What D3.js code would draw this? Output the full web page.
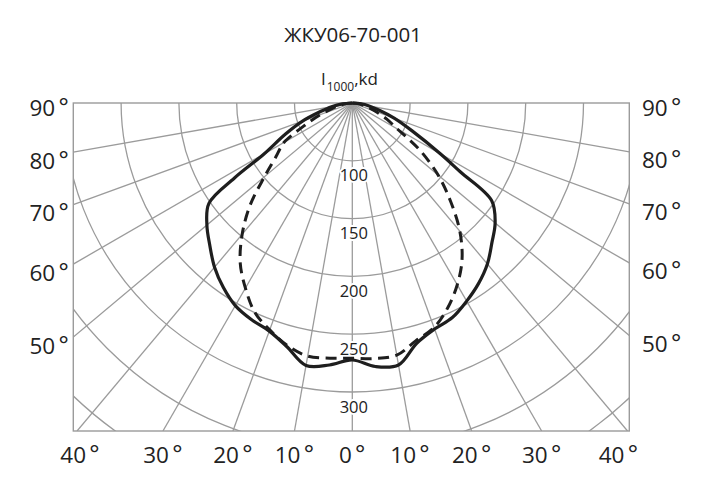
<!DOCTYPE html>
<html><head><meta charset="utf-8">
<script src="https://cdn.jsdelivr.net/npm/d3@7"></script>
<style>body{margin:0;background:#fff} svg{display:block}</style>
</head><body>
<svg id="c" width="711" height="479"></svg>
<script>
// ---- data ----
const title = "ЖКУ06-70-001";
const axisLabel = { main: "I", sub: "1000", unit: ",kd" };
// angle from nadir (deg), negative = left half
const angles = [-90,-85,-80,-75,-70,-65,-60,-57.5,-55,-50,-45,-40,-35,-30,-25,-20,-15,-10,-5,0,5,10,15,20,25,30,35,40,45,50,55,57.5,60,65,70,75,80,85,90];
const solidValues = [50,58.7,68.2,78.5,95.8,114,138.2,171.1,201.4,214.2,224.3,235.4,244.6,252.4,256.7,260,268.3,280.5,277.5,272.3,278.8,280.1,265.2,258.1,254.8,247.9,240.5,231.8,220.8,211.3,197.1,160.7,138.2,107.1,88.9,74.2,64.7,57.8,50];
const dashedValues = [50,55.2,60.4,67.3,79.4,95,118.3,124.4,130.4,149.1,175,198.2,219,234.9,249.7,258.9,267.1,272.3,271.6,270.8,271.9,271.5,262.8,256.7,245.4,231.6,215.5,194.7,170.2,146.9,121.8,107.1,95,82.9,71.6,63.8,58.7,54.3,50];
const ringValues = [100,150,200,250,300,350,400];
const ringTickLabels = [100,150,200,250,300];
const radialAngles = [-80,-70,-60,-50,-40,-30,-20,-10,0,10,20,30,40,50,60,70,80];
const sideTickLabels = [90,80,70,60,50];
const bottomTickLabels = [-40,-30,-20,-10,0,10,20,30,40];

// ---- layout ----
const svg = d3.select("#c");
const cx = 352.3, cy = 103;
const box = { x0: 73.3, x1: 629.3, y0: 103, y1: 431 };
const r = d3.scaleLinear().domain([50, 300]).range([0, 289]);
const grid = "#9b9b9b", ink = "#1e1e1e";
const font = "'Open Sans', 'Noto Sans', sans-serif";

const defs = svg.append("defs");
defs.append("clipPath").attr("id", "bx").append("rect")
  .attr("x", box.x0).attr("y", box.y0).attr("width", box.x1 - box.x0).attr("height", box.y1 - box.y0);

const rad = a => a * Math.PI / 180;
// intersection of ray from pole with box border
function edgeHit(a) {
  const t = rad(a);
  const dyB = box.y1 - cy;
  const dx = dyB * Math.tan(t);
  if (cx + dx >= box.x0 - 0.01 && cx + dx <= box.x1 + 0.01) return { x: cx + dx, y: box.y1, side: "bottom" };
  const ex = a < 0 ? box.x0 - cx : box.x1 - cx;
  return { x: cx + ex, y: cy + ex / Math.tan(t), side: a < 0 ? "left" : "right" };
}

const g = svg.append("g").attr("clip-path", "url(#bx)");
g.selectAll("circle.ring").data(ringValues).join("circle")
  .attr("cx", cx).attr("cy", cy).attr("r", d => r(d))
  .attr("fill", "none").attr("stroke", grid).attr("stroke-width", 1.3);
g.selectAll("line.rad").data(radialAngles).join("line")
  .attr("x1", cx).attr("y1", cy)
  .attr("x2", d => edgeHit(d).x).attr("y2", d => edgeHit(d).y)
  .attr("stroke", grid).attr("stroke-width", 1.3);

svg.append("rect").attr("x", box.x0).attr("y", box.y0)
  .attr("width", box.x1 - box.x0).attr("height", box.y1 - box.y0)
  .attr("fill", "none").attr("stroke", grid).attr("stroke-width", 1.4);

// ring labels
svg.selectAll("text.rl").data(ringTickLabels).join("text")
  .attr("x", cx + 1.5).attr("y", d => cy + r(d) + 14)
  .attr("text-anchor", "middle").attr("dominant-baseline", "central")
  .attr("font-family", font).attr("font-size", 16.5).attr("fill", "#222")
  .attr("stroke", "#fff").attr("stroke-width", 4).attr("paint-order", "stroke")
  .text(d => d);

function degLabel(sel, fn) {
  sel.append("tspan").text(fn);
  sel.append("tspan").attr("dx", 3).attr("font-size", 27).attr("dy", 1)
    .attr("font-family", "'Liberation Sans', sans-serif").text("°");
}

// side labels
[-1, 1].forEach(s => {
  svg.selectAll("text.side" + s).data(sideTickLabels).join("text")
    .attr("x", s < 0 ? 69 : 642)
    .attr("y", d => d === 90 ? cy + 4 : edgeHit(s * d).y + 7.5)
    .attr("text-anchor", s < 0 ? "end" : "start").attr("dominant-baseline", "central")
    .attr("font-family", font).attr("font-size", 22.5).attr("fill", "#222")
    .call(degLabel, d => d);
});
svg.selectAll("text.bot").data(bottomTickLabels).join("text")
  .attr("x", d => edgeHit(d).x + (d === 40 ? -9 : d === -40 ? 3 : 0))
  .attr("y", 454).attr("text-anchor", "middle").attr("dominant-baseline", "central")
  .attr("font-family", font).attr("font-size", 22.5).attr("fill", "#222")
  .call(degLabel, d => Math.abs(d));

// title and unit
svg.append("text").attr("x", 353).attr("y", 42).attr("text-anchor", "middle")
  .attr("font-family", font).attr("font-size", 20.5).attr("fill", "#222").text(title);
const u = svg.append("text").attr("x", 321).attr("y", 85)
  .attr("font-family", font).attr("font-size", 17).attr("fill", "#222");
u.append("tspan").text(axisLabel.main);
u.append("tspan").attr("font-size", 12).attr("dy", 6).attr("dx", 1).text(axisLabel.sub);
u.append("tspan").attr("dy", -6).text(axisLabel.unit);

// curves
const line = d3.lineRadial()
  .angle(d => Math.PI - rad(d[0]))
  .radius(d => r(d[1]))
  .curve(d3.curveCatmullRom.alpha(0.5));
const curves = svg.append("g").attr("transform", `translate(${cx},${cy})`);
curves.append("path").attr("d", line(angles.map((a, i) => [a, dashedValues[i]])))
  .attr("fill", "none").attr("stroke", ink).attr("stroke-width", 3)
  .attr("stroke-dasharray", "11,6.5");
curves.append("path").attr("d", line(angles.map((a, i) => [a, solidValues[i]])))
  .attr("fill", "none").attr("stroke", ink).attr("stroke-width", 3.2)
  .attr("stroke-linejoin", "round");
</script>
</body></html>
